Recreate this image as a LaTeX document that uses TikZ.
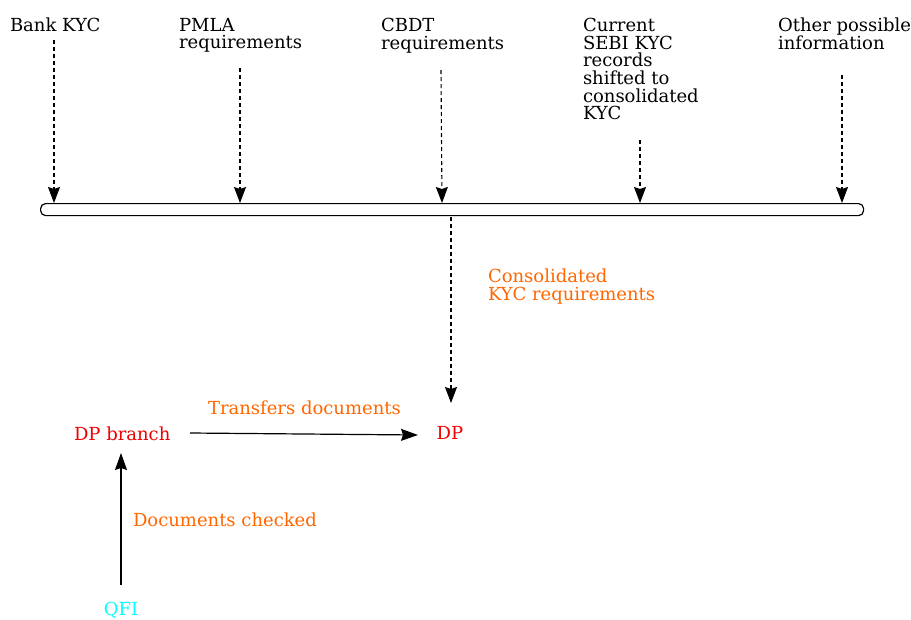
\documentclass[tikz,border=0pt]{standalone}
\usepackage{fontspec}
\setmainfont{DejaVu Serif}
\usetikzlibrary{arrows.meta}
\definecolor{lblorange}{HTML}{FF6600}
\definecolor{nodered}{HTML}{EE0000}
\definecolor{nodecyan}{HTML}{00FFFF}
\begin{document}
\begin{tikzpicture}[x=1pt,y=-1pt,
  txt/.style={inner sep=0pt, outer sep=0pt, align=left, font=\fontsize{18}{17.7}\selectfont},
  src/.style={txt, anchor=north west},
  lbl/.style={txt, text=lblorange},
  feed/.style={line width=1.1pt, dash pattern=on 4pt off 3pt,
    -{Stealth[length=16pt,width=12pt,inset=2pt]}},
  flow/.style={line width=1.2pt, -{Stealth[length=17pt,width=12pt,inset=2pt]}}]
\useasboundingbox (0,0) rectangle (911,619);

% information sources along the top
\node[src] (bank)  at (10,18)  {Bank KYC};
\node[src] (pmla)  at (179,18) {PMLA\\requirements};
\node[src] (cbdt)  at (381,18) {CBDT\\requirements};
\node[src] (sebi)  at (583,18) {Current\\SEBI KYC\\records\\shifted to\\consolidated\\KYC};
\node[src] (other) at (778,18) {Other possible\\information};

% collecting bar
\node[draw, line width=1.2pt, rounded corners=5pt, minimum width=823pt,
  minimum height=12pt, inner sep=0pt, anchor=north west] (bar) at (40,203) {};

% start points of the feeding arrows
\coordinate (bankS)  at (54,40);
\coordinate (pmlaS)  at (240,68);
\coordinate (cbdtS)  at (441,70);
\coordinate (sebiS)  at (640,140);
\coordinate (otherS) at (842,75);

\draw[feed] (bankS)  -- (bankS |- bar.north);
\draw[feed] (pmlaS)  -- (pmlaS |- bar.north);
\draw[feed] (cbdtS)  -- (442,0 |- bar.north);
\draw[feed] (sebiS)  -- (sebiS |- bar.north);
\draw[feed] (otherS) -- (otherS |- bar.north);

% depository participants
\node[txt, text=nodered, anchor=base] (dp) at (450,439) {DP};
\node[txt, text=nodered, anchor=base west] (branch) at (74,440) {DP branch};
\node[txt, text=nodecyan, anchor=base] (qfi) at (121,615) {QFI};

\coordinate (barOut) at (451,217);
\draw[feed] (barOut) -- (451,403);
\node[lbl, anchor=north west] (cons) at (488,269) {Consolidated\\KYC requirements};

\coordinate (brOut) at (190,433);
\draw[flow] (brOut) -- (418,435);
\node[lbl, anchor=base west] (trans) at (208,414) {Transfers documents};

\coordinate (qfiOut) at (121,585);
\draw[flow] (qfiOut) -- (121,453);
\node[lbl, anchor=base west] (check) at (133,526) {Documents checked};
\end{tikzpicture}
\end{document}
